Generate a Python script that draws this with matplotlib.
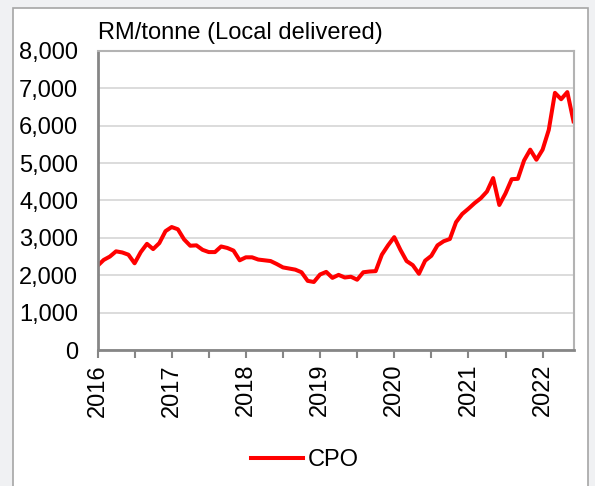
from matplotlib import pyplot as plt
from matplotlib.patches import Rectangle
import numpy as np

plt.rcParams['font.family'] = ['Liberation Sans', 'DejaVu Sans']

# monthly CPO price, Jan 2016 - Jun 2022 (RM/tonne)
cpo = [2250, 2410, 2500, 2640, 2610, 2550, 2320, 2620, 2840, 2700, 2860, 3180,
       3290, 3230, 2960, 2790, 2800, 2680, 2620, 2620, 2770, 2730, 2660, 2400,
       2480, 2480, 2420, 2400, 2380, 2300, 2210, 2180, 2150, 2080, 1850, 1820,
       2020, 2090, 1930, 2010, 1940, 1960, 1880, 2080, 2100, 2110, 2550, 2800,
       3020, 2680, 2380, 2270, 2040, 2390, 2520, 2800, 2910, 2970, 3420, 3640,
       3780, 3930, 4060, 4240, 4600, 3880, 4190, 4570, 4580, 5070, 5360, 5090,
       5360, 5890, 6880, 6710, 6900, 6120]
years = ["2016", "2017", "2018", "2019", "2020", "2021", "2022"]
yticks = [0, 1000, 2000, 3000, 4000, 5000, 6000, 7000, 8000]

W, H = 595, 486
fig = plt.figure(figsize=(W / 100, H / 100), dpi=100, facecolor="#f0f1f3")
# white panel behind the chart
fig.patches.append(Rectangle((13 / W, -0.05), 575 / W, 1 - 8 / H + 0.05,
                             transform=fig.transFigure, facecolor="white",
                             edgecolor="#a6a6a6", linewidth=1.2, zorder=-1))

ax = fig.add_axes([97.5 / W, 1 - 350 / H, (573.5 - 97.5) / W, (350 - 51) / H])
months = np.arange(len(cpo))
ax.plot(months, cpo, color="#ff0000", linewidth=2.9, label="CPO",
        solid_joinstyle="round")

ax.set_xlim(0, len(cpo) - 1)
ax.set_ylim(0, 8000)
ax.set_yticks(yticks)
ax.set_yticklabels([f"{v:,}" for v in yticks])
ax.set_xticks(np.arange(0, 12 * len(years), 12))
ax.set_xticklabels(years, rotation=90)
ax.set_xticks(np.arange(6, len(cpo), 12), minor=True)

ax.grid(axis="y", color="#d9d9d9", linewidth=1.3)
ax.set_axisbelow(True)
ax.tick_params(axis="y", length=0, pad=14, labelsize=17)
ax.tick_params(axis="x", which="both", length=6, width=1.5, color="#868686",
               direction="out", pad=4, labelsize=17)
for s in ["left", "bottom"]:
    ax.spines[s].set_color("#868686")
    ax.spines[s].set_linewidth(2)
for s in ["top", "right"]:
    ax.spines[s].set_color("#b3b3b3")
    ax.spines[s].set_linewidth(1.5)

ax.text(0, 1.06, "RM/tonne (Local delivered)", transform=ax.transAxes,
        fontsize=17, ha="left", va="center")

fig.legend(loc="center", bbox_to_anchor=(305 / W, 1 - 460 / H), frameon=False,
           fontsize=17, handlelength=2.2, handletextpad=0.2)

fig.savefig("out.png", dpi=100, facecolor=fig.get_facecolor())
